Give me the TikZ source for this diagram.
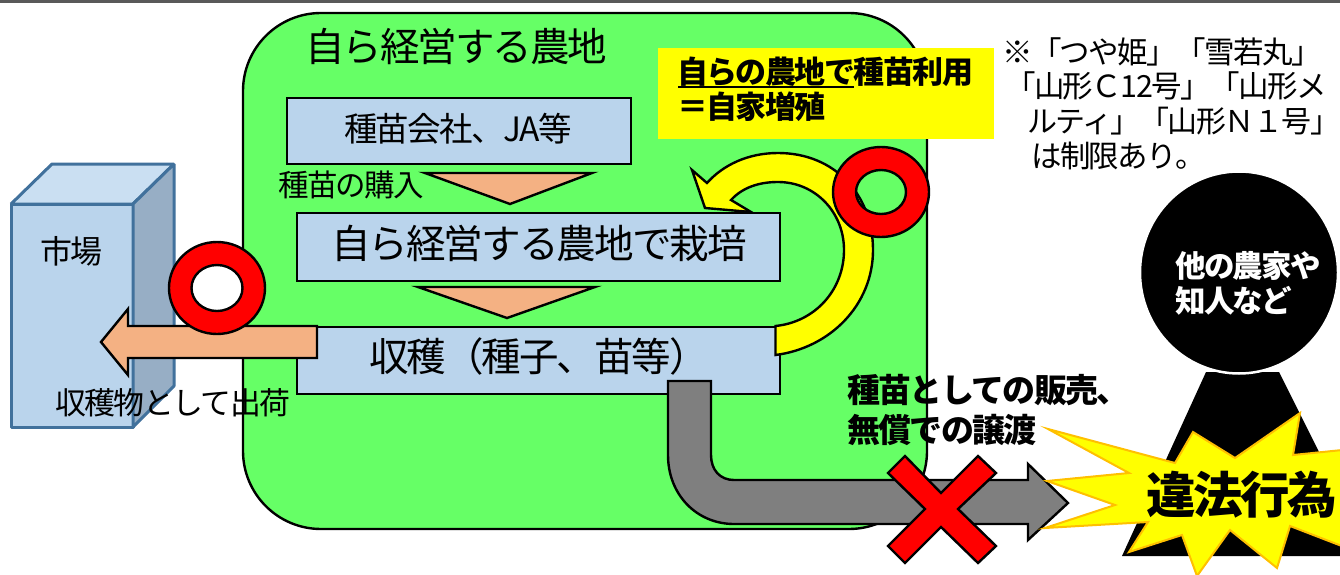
\documentclass[tikz,border=0pt]{standalone}
\usepackage{fontspec}
\setmainfont[LetterSpace=-5]{Noto Sans CJK JP}
\newcommand{\fs}[1]{\fontsize{#1}{#1}\selectfont}
\definecolor{boxblue}{HTML}{BAD4EC}
\definecolor{peach}{HTML}{F4B183}
\definecolor{fieldgreen}{HTML}{66FF66}
\definecolor{cubeline}{HTML}{41719C}
\definecolor{cubetop}{HTML}{CADFF2}
\definecolor{cubeside}{HTML}{97AEC5}
\definecolor{burst}{HTML}{FFC000}
\definecolor{pureyellow}{HTML}{FFFF00}
\definecolor{purered}{HTML}{FF0000}
\definecolor{midgrey}{HTML}{7F7F7F}
\tikzset{
  lab/.style={anchor=base west,inner sep=0pt,outer sep=0pt,text=black},
  blk/.style={draw=black,line width=2.4pt,line join=miter},
  boxa/.style={blk,fill=boxblue},
  tri/.style={blk,fill=peach},
  cubeface/.style={draw=cubeline,line width=3pt,line join=bevel},
}
\begin{document}
\begin{tikzpicture}[x=1pt,y=-1pt]
\useasboundingbox (0,0) rectangle (1340,575);
\begin{scope}
\clip (0,0) rectangle (1340,575);
\fill[white] (0,0) rectangle (1340,575);
\draw[draw=black!65,line width=3pt] (0,1.5) -- (1340,1.5);

% field
\path[blk,fill=fieldgreen,rounded corners=78pt] (243,13) rectangle (927,529);
\node[lab,font=\fs{39.5}] (fieldt) at (305,62) {自ら経営する農地};

% boxes
\path[boxa] (287,98) rectangle (631,164);
\node[lab,font=\fs{33.5}] (buyt) at (344,141) {種苗会社、JA等};
\path[tri] (425,173) -- (592,173) -- (510,204) -- cycle;
\path[boxa] (297,213) rectangle (780,281);
\node[lab,font=\fs{39.6}] (growt) at (331,258) {自ら経営する農地で栽培};
\path[tri] (418,287) -- (595,287) -- (507,318) -- cycle;
\path[boxa] (297,327) rectangle (780,394);
\node[lab,font=\fs{39.5}] (harvt) at (369,371) {収穫（種子、苗等）};
\node[lab,font=\fs{30.5}] (purch) at (278,196) {種苗の購入};

% market cube
\path[cubeface,fill=boxblue] (11,204) rectangle (133,427);
\path[cubeface,fill=cubetop] (11,204) -- (52,164) -- (174,164) -- (133,204) -- cycle;
\path[cubeface,fill=cubeside] (133,204) -- (174,164) -- (174,386) -- (133,427) -- cycle;
\node[lab,font=\fs{32}] (market) at (40,263) {市場};

% yellow curved arrow
\path[blk,fill=pureyellow]
  (775.5,355) .. controls (830,348) and (873,305) .. (873,250)
  .. controls (873,195) and (835,153) .. (778,153)
  .. controls (748,153) and (723,165) .. (707,183)
  -- (692,170) -- (705,208) -- (751,212) -- (731,200)
  .. controls (742,188) and (758,182) .. (778,182)
  .. controls (815,182) and (844,212) .. (844,250)
  .. controls (844,290) and (815,322) .. (775.5,326) -- cycle;

% grey bent arrow
\path[blk,fill=midgrey]
  (668,381) -- (711,381) -- (711,455)
  .. controls (711,470) and (720,480) .. (734,480)
  -- (1028,480) -- (1028,464) -- (1068,503) -- (1028,540) -- (1028,524) -- (734,524)
  .. controls (697,524) and (668,495) .. (668,455) -- cycle;

% orange arrow
\path[tri] (317,326) -- (128,326) -- (128,309) -- (101,342) -- (128,375) -- (128,358) -- (317,358) -- cycle;

% OK marks
\path[blk,fill=purered,even odd rule] (217,288) ellipse [x radius=48,y radius=46] (217,288) ellipse [x radius=25.5,y radius=23];
\path[blk,fill=purered,even odd rule] (881,192) ellipse [x radius=48,y radius=45] (881,192) ellipse [x radius=25,y radius=22];

\node[lab,font=\fs{30.9}] (ship) at (55,414) {収穫物として出荷};

% yellow label
\fill[pureyellow] (658,48) rectangle (994,139);
\node[lab,font=\bfseries\fs{31}] (self1) at (677,84) {自らの農地で種苗利用};
\node[lab,font=\bfseries\fs{31}] (self2) at (677,119) {＝自家増殖};
\draw[black,line width=2pt] (678,87) -- (854,87);

% note
\node[lab,font=\fs{30.5}] (n1) at (1002,64) {※「つや姫」「雪若丸」};
\node[lab,font=\fs{30.5}] (n2) at (1005,98) {「山形Ｃ12号」「山形メ};
\node[lab,font=\fs{30}] (n3) at (1027,132) {ルティ」「山形Ｎ１号」};
\node[lab,font=\fs{30.5}] (n4) at (1031,167) {は制限あり。};

% person
\fill[black] (1206,372) -- (1279,372) -- (1371,556) -- (1122,556) -- cycle;
\path[draw=white,line width=2.5pt,fill=black] (1239,272.5) ellipse [x radius=99,y radius=101];
\node[lab,font=\bfseries\fs{30.5},text=white] (o1) at (1175,277) {他の農家や};
\node[lab,font=\bfseries\fs{30.5},text=white] (o2) at (1175,312) {知人など};

% labels
\node[lab,font=\bfseries\fs{33}] (s1) at (847,402) {種苗としての販売、};
\node[lab,font=\bfseries\fs{33}] (s2) at (847,442) {無償での譲渡};

% burst
\path[draw=burst,line width=2pt,fill=pureyellow,line join=miter,miter limit=30]
  (1048,429) -- (1175,463) -- (1193,432) -- (1235,458) -- (1300,413) -- (1293,455) -- (1362,448)
  -- (1345,470) -- (1365,492) -- (1345,514) -- (1365,555) -- (1290,526) -- (1277,568) -- (1230,530) -- (1197,576) -- (1182,535) -- (1129,552)
  -- (1148,522) -- (1045,528) -- (1115,505) -- (1047,481) -- (1129,473) -- cycle;
\node[lab,font=\bfseries\fs{49.5}] (ill) at (1146,513) {違法行為};

% red cross
\path[blk,fill=purered]
  (905,456) -- (941,493) -- (978,456) -- (996,473) -- (958,509) -- (996,546) -- (978,563)
  -- (941,527) -- (905,563) -- (888,546) -- (925,509) -- (888,473) -- cycle;
\end{scope}
\end{tikzpicture}
\end{document}
